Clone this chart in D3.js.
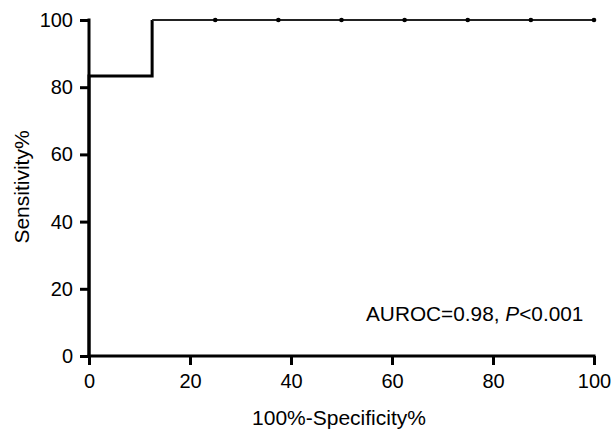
<!DOCTYPE html>
<html>
<head>
<meta charset="utf-8">
<script src="https://cdn.jsdelivr.net/npm/d3@7"></script>
<style>
html,body{margin:0;padding:0;background:#fff;}
svg{display:block;}
text{font-family:"Liberation Sans",Arial,Helvetica,sans-serif;fill:#000;}
</style>
</head>
<body>
<svg id="chart" width="613" height="433"></svg>
<script>
// ROC curve points: [100% - specificity %, sensitivity %]
const fpr = [0, 0, 12.5, 12.5, 25, 37.5, 50, 62.5, 75, 87.5, 100];
const tpr = [0, 83.33, 83.33, 100, 100, 100, 100, 100, 100, 100, 100];
// marker points along the top segment
const markerX = [25, 37.5, 50, 62.5, 75, 87.5, 100];
const markerY = [100, 100, 100, 100, 100, 100, 100];
const xTicks = [0, 20, 40, 60, 80, 100];
const yTicks = [0, 20, 40, 60, 80, 100];
const xTitle = "100%-Specificity%";
const yTitle = "Sensitivity%";

const svg = d3.select("#chart");
const x = d3.scaleLinear().domain([0, 100]).range([89, 594]);
const y = d3.scaleLinear().domain([0, 100]).range([356, 20]);

// axes
const xAxis = svg.append("g").attr("transform", `translate(0,${y(0)})`)
  .call(d3.axisBottom(x).tickValues(xTicks).tickSize(9).tickPadding(9).tickSizeOuter(0));
const yAxis = svg.append("g").attr("transform", `translate(${x(0)},0)`)
  .call(d3.axisLeft(y).tickValues(yTicks).tickSize(9).tickPadding(7).tickSizeOuter(0));
[xAxis, yAxis].forEach(g => {
  g.select(".domain").attr("stroke", "#000").attr("stroke-width", 3);
  g.selectAll(".tick line").attr("stroke", "#000").attr("stroke-width", 3);
  g.selectAll(".tick text").attr("font-size", 20)
    .attr("font-family", "Liberation Sans, Arial, sans-serif").attr("fill", "#000");
});
// extend domain lines to cover corner
xAxis.select(".domain").attr("d", `M${x(0)-1.5},0H${x(100)+1.5}`);
yAxis.select(".domain").attr("d", `M0,${y(0)+1.5}V${y(100)-1.5}`);

// ROC step line (bold part)
const pts = fpr.map((d, i) => [d, tpr[i]]);
const stepPts = pts.slice(0, 4);
const topPts = pts.slice(3);
const line = d3.line().x(d => x(d[0])).y(d => y(d[1]));
svg.append("path").attr("d", line(stepPts)).attr("fill", "none")
  .attr("stroke", "#000").attr("stroke-width", 3).attr("stroke-linejoin", "miter");
svg.append("path").attr("d", line(topPts)).attr("fill", "none")
  .attr("stroke", "#222").attr("stroke-width", 2);

// markers
svg.selectAll("circle.m").data(markerX.map((d, i) => [d, markerY[i]])).enter()
  .append("circle").attr("class", "m")
  .attr("cx", d => x(d[0])).attr("cy", d => y(d[1])).attr("r", 2.3).attr("fill", "#000");

// titles
svg.append("text").attr("x", 339).attr("y", 425).attr("text-anchor", "middle")
  .attr("font-size", 21).text(xTitle);
svg.append("text").attr("transform", "translate(29,187) rotate(-90)").attr("text-anchor", "middle")
  .attr("font-size", 21).text(yTitle);

// annotation
const ann = svg.append("text").attr("x", 366).attr("y", 321).attr("font-size", 20.8);
ann.append("tspan").text("AUROC=0.98, ");
ann.append("tspan").attr("font-style", "italic").text("P");
ann.append("tspan").text("<0.001");
</script>
</body>
</html>
